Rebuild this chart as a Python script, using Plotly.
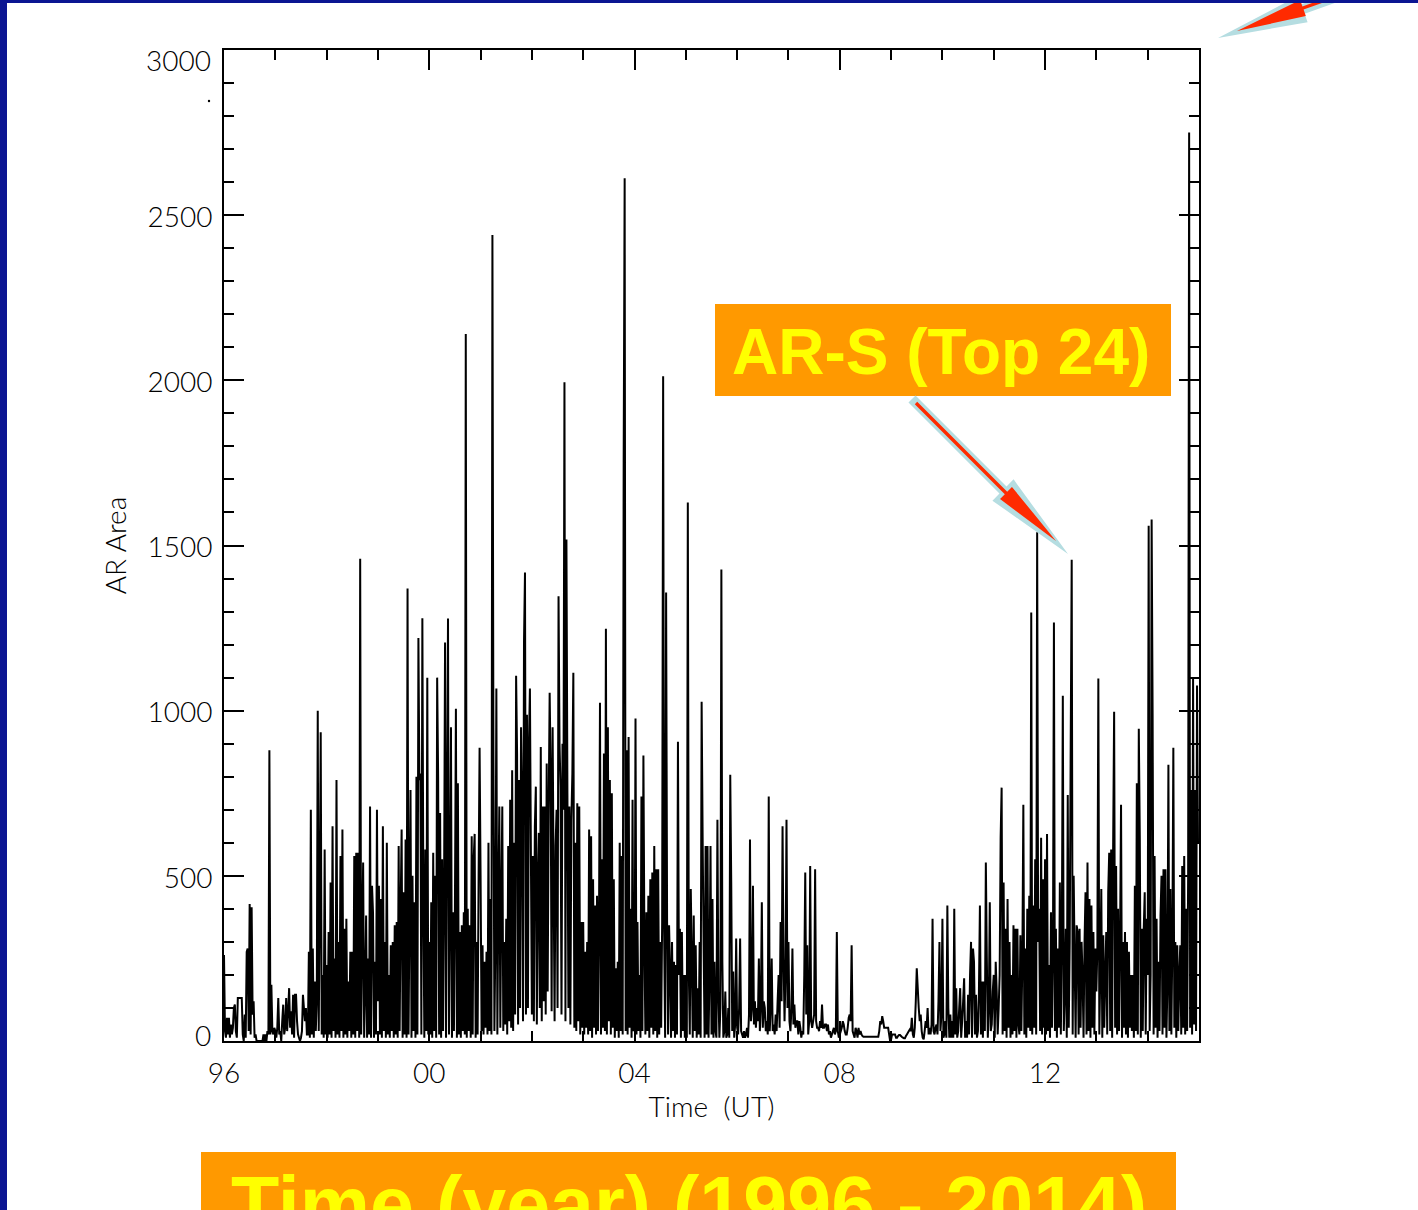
import plotly.graph_objects as go

# ---- data: weekly AR area (52 samples per year) ----
area_1996 = [260,30,10,70,20,70,10,50,20,40, 100,110,30,10,130,130,130,130,130,20, 0,80,10,270,280,30,415,20,405,80,
             120,10,20,0,0,0,0,0,0,0, 20,0,20,0,30,20,880,20,170,30, 20,40]
area_1997 = [30,10,40,130,20,30,0,60,110,20, 40,130,30,90,160,40,90,20,140,10, 140,140,60,20,10,0,10,30,140,100,
             60,100,20,20,270,10,700,20,280,10, 180,30,120,1000,30,410,935,20,200,10, 580,20]
area_1998 = [230,10,330,20,480,10,650,30,250,10, 790,20,300,10,560,30,640,10,340,20, 370,10,180,30,270,10,270,20,560,10,
             570,30,570,10,1460,20,300,540,10,150, 380,10,250,20,710,10,470,390,10,240, 20,700]
area_1999 = [120,470,20,430,10,650,30,300,10,600, 20,200,10,290,30,300,10,350,20,360, 10,590,30,400,640,10,450,20,610,10,
             1370,20,400,760,10,500,30,420,10,800, 20,1220,790,810,20,1280,440,10,580,30, 1100,20]
area_2000 = [300,20,420,10,570,30,500,10,1100,800, 20,690,10,550,30,450,1206,10,690,1279, 20,400,950,10,390,30,400,1006,10,780,
             20,330,10,350,30,390,20,2140,10,400, 30,350,10,620,20,550,627,10,300,20, 500,888]
area_2001 = [500,30,290,20,240,40,270,20,600,30, 430,20,2440,870,30,300,1067,20,420,710, 40,420,710,30,300,50,370,20,590,60,
             730,40,820,30,600,80,1106,870,50,790, 100,950,730,60,1206,1418,80,988,100,900, 1067,560]
area_2002 = [80,560,60,650,770,50,490,630,100,890, 60,710,120,710,80,840,150,700,1054,820, 90,950,490,60,590,700,100,1346,900,770,
             80,900,700,1994,60,1518,750,100,710,50, 670,810,1115,40,600,30,720,60,710,20, 360,40]
area_2003 = [360,20,270,40,300,20,640,30,620,10, 490,40,410,20,440,30,350,1024,20,550, 40,870,30,1248,20,950,60,790,20,750,
             40,490,10,220,30,240,10,600,30,560, 20,1752,2612,30,880,20,920,40,400,10, 730,30]
area_2004 = [40,976,20,360,30,200,10,740,30,864, 310,20,390,30,440,10,490,40,510,20, 590,30,520,10,520,20,300,40,360,2012,
             330,10,1358,360,20,350,220,10,300,30, 240,10,230,20,906,200,340,10,330,30, 200,10]
area_2005 = [200,10,1630,210,20,460,250,10,380,30, 290,10,160,20,300,10,1027,620,290,10, 590,20,590,10,200,590,20,430,10,240,
             30,10,670,140,10,100,1427,240,10,30, 150,10,20,100,10,806,480,30,210,10, 50,310]
area_2006 = [40,20,100,310,30,20,10,30,10,20, 40,10,80,610,60,100,470,50,120,40, 100,60,250,30,100,420,40,120,100,30,
             60,20,740,30,100,250,30,50,20,80, 30,120,200,40,360,120,650,250,60,200, 670,100]
area_2007 = [300,60,30,100,280,50,110,40,60,60, 20,60,40,10,30,20,200,510,80,290, 20,60,530,60,40,60,80,520,60,40,
             40,30,60,40,110,40,40,50,50,30, 50,20,30,10,20,30,40,20,30,330, 30,10]
area_2008 = [20,30,40,60,50,30,20,20,40,70, 80,60,290,30,20,10,40,30,10,40, 20,30,20,15,13,13,13,13,13,13,
             13,13,13,13,13,13,13,13,13,13, 30,60,50,75,60,40,40,40,40,40, 20,0]
area_2009 = [5,20,20,20,20,10,10,15,18,18, 15,12,10,8,8,15,20,25,30,35, 30,70,20,10,40,120,220,160,100,60,
             80,30,10,5,30,60,40,100,20,40, 20,50,370,30,20,40,50,20,120,300, 30,80]
area_2010 = [370,10,20,60,10,410,100,10,80,10, 60,10,400,20,160,10,30,100,160,10, 60,120,190,10,60,10,140,20,200,300,
             10,280,240,20,140,10,30,150,410,20, 180,10,180,30,540,250,10,100,420,30, 50,150]
area_2011 = [200,10,240,150,20,100,200,615,767,20, 480,30,340,10,430,40,300,10,200,20, 350,30,340,10,340,50,20,320,30,250,
             715,20,280,10,400,40,440,30,1297,20, 410,40,550,20,1540,300,400,30,615,20, 490,40]
area_2012 = [550,20,627,30,230,10,390,40,250,1267, 30,340,10,280,40,480,20,300,1045,30, 150,340,10,745,40,300,897,1457,20,500,
             240,10,350,330,20,340,40,300,200,10, 300,450,20,540,30,430,10,410,40,330, 20,280]
area_2013 = [150,280,1097,20,210,460,10,320,40,200, 330,20,450,570,30,580,10,590,997,40, 530,20,400,30,300,715,10,300,40,330,
             20,300,10,270,40,200,30,200,10,470, 30,780,20,945,620,10,340,30,340,450, 20,370]
area_2014 = [200,1560,30,200,1579,988,20,560,40,370, 10,240,30,380,500,20,520,40,520,10, 170,836,30,460,20,300,888,40,300,10,
             290,30,200,290,20,530,40,560,20,400, 30,500,2750,40,760,20,1097,50,760,30, 1076,600]

years = list(range(1996, 2015))
area_by_year = [area_1996, area_1997, area_1998, area_1999, area_2000, area_2001, area_2002,
                area_2003, area_2004, area_2005, area_2006, area_2007, area_2008, area_2009,
                area_2010, area_2011, area_2012, area_2013, area_2014]

x_tick_vals = [1996, 2000, 2004, 2008, 2012]
x_tick_text = ["96", "00", "04", "08", "12"]
y_tick_vals = [0, 500, 1000, 1500, 2000, 2500, 3000]
y_tick_text = ["", "500", "1000", "1500", "2000", "2500", ""]   # end labels are set inside the frame below

t, a = [], []
for yr, vals in zip(years, area_by_year):
    for w, v in enumerate(vals):
        t.append(yr + w / len(vals))
        a.append(v)

# ---- layout geometry (pixels) ----
W, H = 1418, 1210
L, R, T, B = 224, 1199, 50, 1041

def px(x):
    return (x - L) / (R - L)

def py(y):
    return (B - y) / (B - T)

def poly(points):
    return "M " + " L ".join(f"{px(x):.5f},{py(y):.5f}" for x, y in points) + " Z"

def arrow_points(tail, base, tip, s, h):
    dx, dy = tip[0] - tail[0], tip[1] - tail[1]
    ln = (dx * dx + dy * dy) ** 0.5
    ux, uy = dx / ln, dy / ln
    nx, ny = -uy, ux
    return [(tail[0] + s * nx, tail[1] + s * ny), (base[0] + s * nx, base[1] + s * ny),
            (base[0] + h * nx, base[1] + h * ny), tip,
            (base[0] - h * nx, base[1] - h * ny), (base[0] - s * nx, base[1] - s * ny),
            (tail[0] - s * nx, tail[1] - s * ny)]

ORANGE = "#FF9900"
YELLOW = "#FFFF00"
RED = "#FF2A00"
LBLUE = "#B5DDE1"
NAVY = "#0B1592"

shapes = []
def add_path(points, color):
    shapes.append(dict(type="path", xref="paper", yref="paper", path=poly(points),
                       fillcolor=color, line=dict(width=0), layer="above"))

def add_rect(x0, y0, x1, y1, color):
    shapes.append(dict(type="rect", xref="paper", yref="paper", x0=px(x0), x1=px(x1),
                       y0=py(y1), y1=py(y0), fillcolor=color, line=dict(width=0), layer="above"))

# orange label boxes
add_rect(715, 304, 1171, 396, ORANGE)
add_rect(201, 1152, 1176, 1230, ORANGE)

# main arrow (light-blue outline + red arrow)
add_path(arrow_points((912, 399), (1003, 490), (1068, 554), 5, 15), LBLUE)
add_path(arrow_points((916, 403), (1006, 493), (1056, 541), 1.7, 8.5), RED)
# top-right arrow (mostly off-page)
add_path(arrow_points((1345, -6), (1303, 9), (1218, 38), 5, 14), LBLUE)
add_path(arrow_points((1345, -7), (1303, 8), (1237, 31), 1.7, 8.5), RED)

# slide border
add_rect(0, -5, 7, 1215, NAVY)
add_rect(-5, -5, 1423, 3, NAVY)

# stray dot
shapes.append(dict(type="circle", xref="paper", yref="paper", x0=px(207.8), x1=px(210.2),
                   y0=py(102.2), y1=py(99.8), fillcolor="black", line=dict(width=0)))

AXFONT = dict(family="Lato, Liberation Sans, Arial", size=28, color="black", weight=300)

annotations = [
    dict(xref="paper", yref="paper", x=px(941), y=py(352), text="AR-S (Top 24)", showarrow=False,
         xanchor="center", yanchor="middle",
         font=dict(family="Liberation Sans, Arial", size=64, color=YELLOW, weight=700)),
    dict(xref="paper", yref="paper", x=px(689), y=py(1204), text="Time (year) (1996 - 2014)", showarrow=False,
         xanchor="center", yanchor="middle",
         font=dict(family="Liberation Sans, Arial", size=79, color=YELLOW, weight=700)),
    # end labels of the y axis, kept inside the axis span as in the original
    dict(xref="paper", yref="y", x=px(213), y=3000, yshift=-10, text="3000", showarrow=False,
         xanchor="right", yanchor="middle", font=AXFONT),
    dict(xref="paper", yref="y", x=px(213), y=0, yshift=6, text="0", showarrow=False,
         xanchor="right", yanchor="middle", font=AXFONT),
]

fig = go.Figure(go.Scatter(x=t, y=a, mode="lines", line=dict(color="black", width=2, simplify=False),
                           showlegend=False, hoverinfo="skip"))

fig.update_layout(
    width=W, height=H, autosize=False,
    margin=dict(l=L, r=W - R, t=T, b=H - B, pad=0),
    paper_bgcolor="white", plot_bgcolor="white",
    shapes=shapes, annotations=annotations,
    xaxis=dict(range=[1996, 2015], showgrid=False, zeroline=False,
               showline=True, linecolor="black", linewidth=2, mirror="allticks",
               ticks="inside", ticklen=20, tickwidth=1.5, tickcolor="black",
               tickvals=x_tick_vals, ticktext=x_tick_text, tickfont=AXFONT,
               ticklabelstandoff=6,
               minor=dict(ticks="inside", ticklen=10, tickwidth=1.5, tickcolor="black", dtick=1, tick0=1996, showgrid=False),
               title=dict(text="Time\u00a0\u00a0(UT)", font=AXFONT, standoff=4)),
    yaxis=dict(range=[0, 3000], showgrid=False, zeroline=False,
               showline=True, linecolor="black", linewidth=2, mirror="allticks",
               ticks="inside", ticklen=20, tickwidth=1.5, tickcolor="black",
               tickvals=y_tick_vals, ticktext=y_tick_text, tickfont=AXFONT,
               ticklabelstandoff=4, ticklabelshift=2,
               minor=dict(ticks="inside", ticklen=10, tickwidth=1.5, tickcolor="black", dtick=100, tick0=0, showgrid=False),
               title=dict(text="AR Area", font=AXFONT, standoff=13)),
)

fig.write_html("out.html")
